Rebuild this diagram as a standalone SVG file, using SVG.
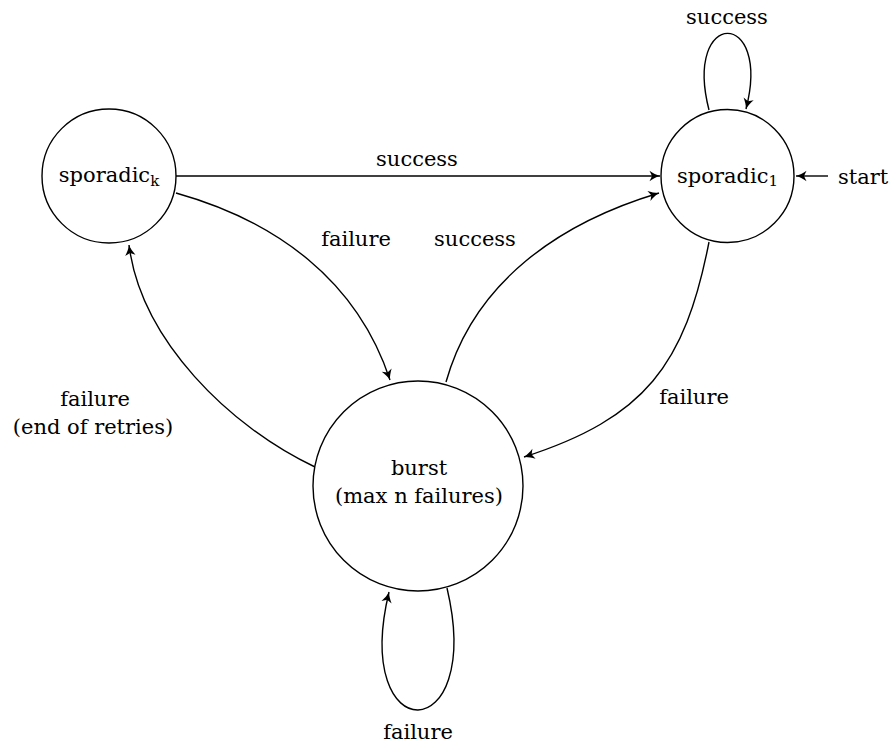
<svg xmlns="http://www.w3.org/2000/svg" width="894" height="747" viewBox="0 0 894 747">
  <style>
    .state { fill: #ffffff; stroke: #000000; stroke-width: 1.4; }
    .edge { fill: none; stroke: #000000; stroke-width: 1.4; marker-end: url(#tip); }
    .lbl { font-family: 'DejaVu Serif', 'Noto Serif', 'Liberation Serif', serif; font-size: 21px; fill: #000000; }
    .mid { text-anchor: middle; }
    .sub { font-size: 15px; }
  </style>
  <defs>
    <marker id="tip" viewBox="-12 -6 13 12" refX="0" refY="0" markerWidth="13" markerHeight="12" markerUnits="userSpaceOnUse" orient="auto">
      <path d="M0,0 C-3.5,-0.9 -7,-2.8 -10.5,-5.2 L-8,0 L-10.5,5.2 C-7,2.8 -3.5,0.9 0,0 Z" fill="#000000"/>
    </marker>
  </defs>

  <!-- transitions -->
  <g id="connectors">
    <!-- sporadic_k -> sporadic_1 -->
    <path class="edge" d="M176,176 L660,176"/>
    <!-- sporadic_k -> burst -->
    <path class="edge" d="M176,193 C276,221 357,280 390,380"/>
    <!-- burst -> sporadic_1 -->
    <path class="edge" d="M446,382 C474,282 559,223 659,193"/>
    <!-- sporadic_1 -> burst -->
    <path class="edge" d="M709,242 C685,365 645,418 524,457"/>
    <!-- burst -> sporadic_k -->
    <path class="edge" d="M315,467 C230,427 141,340 129,245"/>
    <!-- burst self loop -->
    <path class="edge" d="M447,588 C485,750 351,750 389,592"/>
    <!-- sporadic_1 self loop -->
    <path class="edge" d="M709,110 C683,8 772,8 746,109"/>
    <!-- initial state arrow -->
    <path class="edge" d="M828,176 L796,176"/>
  </g>

  <g id="edge-labels" class="lbl">
    <text class="mid" x="417" y="166">success</text>
    <text class="mid" x="356" y="246">failure</text>
    <text class="mid" x="475" y="246">success</text>
    <text class="mid" x="694" y="404">failure</text>
    <text class="mid" x="95" y="406">failure</text>
    <text class="mid" x="93" y="434">(end of retries)</text>
    <text class="mid" x="418" y="739">failure</text>
    <text class="mid" x="727" y="24">success</text>
    <text x="838" y="184">start</text>
  </g>

  <g id="sporadic-k" class="lbl">
    <circle class="state" cx="109" cy="176" r="67"/>
    <text class="mid" x="109" y="182">sporadic<tspan class="sub" dy="4">k</tspan></text>
  </g>

  <g id="sporadic-1" class="lbl">
    <circle class="state" cx="727.5" cy="176" r="66.5"/>
    <text class="mid" x="727.5" y="183">sporadic<tspan class="sub" dy="3">1</tspan></text>
  </g>

  <g id="burst" class="lbl">
    <circle class="state" cx="418" cy="486" r="105"/>
    <text class="mid" x="419" y="475">burst</text>
    <text class="mid" x="419" y="503">(max n failures)</text>
  </g>
</svg>
